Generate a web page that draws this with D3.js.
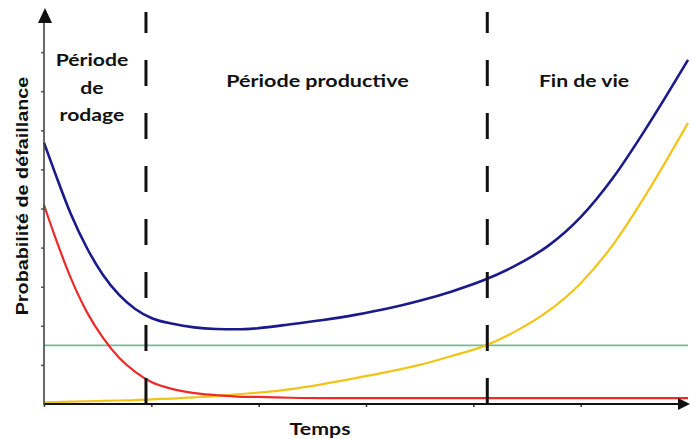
<!DOCTYPE html>
<html><head><meta charset="utf-8">
<script src="https://cdn.jsdelivr.net/npm/d3@7"></script>
<style>body{margin:0;background:#fff}svg{display:block}</style>
</head><body><svg id="c" width="691" height="439"></svg>
<script>
// time samples
const times = [0,0.1,0.25,0.4,0.55,0.7,0.85,1.0,1.2,1.4,1.6,1.8,2.0,2.3,2.6,2.9,3.2,3.5,3.8,4.1,4.4,4.7,5.0,5.3,5.6,6.0];
// total failure probability (blue)
const totalCurve = [6.68,5.93,4.86,3.99,3.30,2.79,2.43,2.20,2.05,1.96,1.92,1.91,1.94,2.04,2.15,2.28,2.44,2.64,2.88,3.17,3.55,4.05,4.78,5.78,7.01,8.80];
// early failures (red)
const earlyFailures = [5.09,4.30,3.22,2.35,1.69,1.18,0.82,0.56,0.38,0.28,0.23,0.19,0.18,0.16,0.15,0.15,0.15,0.15,0.15,0.15,0.15,0.15,0.15,0.15,0.15,0.15];
// wear-out failures (yellow)
const wearOut = [0.04,0.05,0.06,0.07,0.08,0.09,0.10,0.12,0.14,0.17,0.20,0.25,0.29,0.38,0.51,0.66,0.82,1.00,1.23,1.48,1.87,2.38,3.09,4.07,5.32,7.19];
// random failures (green, constant)
const randomLevel = 1.5;
const phaseBounds = [0.95, 4.13];
const xTicks = [0,1,2,3,4,5];
const yTicks = [1,2,3,4,5,6,7,8,9];
const phaseLabels = [["Période","de","rodage"],["Période productive"],["Fin de vie"]];
const xLabel = "Temps";
const yLabel = "Probabilité de défaillance";

const svg = d3.select("#c");
const x = d3.scaleLinear().domain([0,6]).range([44,688]);
const y = d3.scaleLinear().domain([0,10]).range([404,13]);

// green constant
svg.append("line").attr("x1",x(0)).attr("x2",x(6)).attr("y1",y(randomLevel)).attr("y2",y(randomLevel))
  .attr("stroke","#72bd98").attr("stroke-width",1.8);

const line = d3.line().x((d,i)=>x(times[i])).y(d=>y(d)).curve(d3.curveMonotoneX);
svg.append("path").attr("d",line(wearOut)).attr("fill","none").attr("stroke","#f2c417").attr("stroke-width",2.2);
svg.append("path").attr("d",line(earlyFailures)).attr("fill","none").attr("stroke","#ec2a2a").attr("stroke-width",2.2);
svg.append("path").attr("d",line(totalCurve)).attr("fill","none").attr("stroke","#1b1a8a").attr("stroke-width",2.6);

// dashed phase bounds
phaseBounds.forEach(b=>{
  svg.append("line").attr("x1",x(b)).attr("x2",x(b)).attr("y1",404).attr("y2",12)
    .attr("stroke","#111").attr("stroke-width",3).attr("stroke-dasharray","26,27");
});

// axes
const xAxis = d3.axisBottom(x).tickValues(xTicks).tickSize(3).tickFormat("");
const gx = svg.append("g").attr("transform","translate(0,404)").call(xAxis);
gx.select(".domain").remove();
gx.selectAll(".tick line").attr("stroke","#333").attr("stroke-width",1.5);
svg.append("line").attr("x1",44).attr("x2",680).attr("y1",404).attr("y2",404).attr("stroke","#111").attr("stroke-width",2.2);
svg.append("path").attr("d","M690,404 L678,398 L678,410 Z").attr("fill","#111");

const yAxis = d3.axisLeft(y).tickValues(yTicks).tickSize(3).tickFormat("");
const gy = svg.append("g").attr("transform","translate(44,0)").call(yAxis);
gy.select(".domain").remove();
gy.selectAll(".tick line").attr("stroke","#555").attr("stroke-width",1.5);
svg.append("line").attr("x1",44).attr("x2",44).attr("y1",405).attr("y2",20).attr("stroke","#444").attr("stroke-width",1.6);
svg.append("path").attr("d","M45,8 L38,23 L52,23 Z").attr("fill","#111");

// labels
const lf = "Lato, 'Open Sans', sans-serif";
function label(txt, cx, base, size, sx){
  svg.append("text").attr("transform",`translate(${cx},${base}) scale(${sx},1)`)
    .attr("font-family",lf).attr("font-weight",700).attr("font-size",size)
    .attr("fill","#111").attr("text-anchor","middle").text(txt);
}
phaseLabels[0].forEach((s,i)=>label(s,92,66+i*27.5,17.5,1.21));
label(phaseLabels[1][0],317.5,87,17.5,1.23);
label(phaseLabels[2][0],584,87,17.5,1.21);
label(xLabel,320,435,17.5,1.22);
svg.append("text").attr("transform","translate(27.5,196) rotate(-90) scale(1.2,1)")
  .attr("font-family","'Liberation Sans', Arial, sans-serif").attr("font-weight",700).attr("font-size",16.5)
  .attr("fill","#111").attr("text-anchor","middle").text(yLabel);
</script></body></html>
